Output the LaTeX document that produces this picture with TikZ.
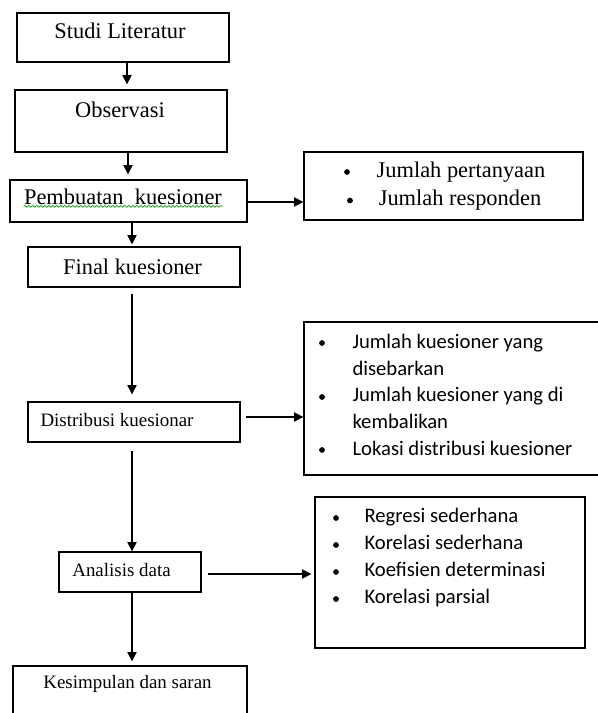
\documentclass[tikz,border=0pt]{standalone}
\usepackage{fontspec}
\setmainfont{Liberation Serif}
\newfontfamily\calibrifont{Carlito}
\usetikzlibrary{arrows.meta,fit,decorations.pathmorphing}

\tikzset{every picture/.style={line width=0.75pt}}
\tikzset{
  box/.style={draw, line width=1pt, inner sep=0pt},
  arr/.style={-{Triangle[length=7pt,width=7pt]}, line width=1pt},
  bigtext/.style={font=\fontsize{16.8}{20}\selectfont, inner sep=0pt},
  smalltext/.style={font=\fontsize{14.2}{17}\selectfont, inner sep=0pt},
  listtext/.style={font=\calibrifont\fontsize{15.5}{19}\selectfont, inner sep=0pt, anchor=base west},
  dot/.style={circle, fill, inner sep=0pt, minimum size=4.3pt},
}

\begin{document}
\begin{tikzpicture}[x=0.75pt,y=0.75pt,yscale=-1,xscale=1]
\clip (0,0) rectangle (598,713);

%Shape: Rectangle 
\node [box, fit={(17,13) (229,62)}] (studi) {};
\node [box, fit={(15,90) (227,152)}] (obs) {};
\node [box, fit={(10,180) (247,222)}] (buat) {};
\node [box, fit={(28,247) (240,287)}] (final) {};
\node [box, fit={(28,402) (240,442)}] (dist) {};
\node [box, fit={(59,552) (201,592)}] (anal) {};
\node [box, fit={(13,666) (247,730)}] (kesim) {};

%Shape: Rectangle 
\node [box, fit={(304,152) (583,220)}] (jumlah) {};
\node [box, fit={(304,322) (602,475)}] (sebar) {};
\node [box, fit={(315,497) (585,648)}] (metode) {};

%Straight Lines 
\draw [arr] (127,0 |- studi.south) -- ([yshift=-5*0.75pt]127,0 |- obs.north);
\draw [arr] (128,0 |- obs.south) -- ([yshift=-5*0.75pt]128,0 |- buat.north);
\draw [arr] (132,0 |- buat.south) -- ([yshift=-2*0.75pt]132,0 |- final.north);
\draw [arr] ([yshift=6*0.75pt]132,0 |- final.south) -- ([yshift=-7*0.75pt]132,0 |- dist.north);
\draw [arr] ([yshift=8*0.75pt]132,0 |- dist.south) -- (132,0 |- anal.north);
\draw [arr] (132,0 |- anal.south) -- ([yshift=-4*0.75pt]132,0 |- kesim.north);

%Straight Lines 
\draw [arr] ([xshift=-2*0.75pt]buat.east |- 0,202) -- (jumlah.west |- 0,202);
\draw [arr] ([xshift=5*0.75pt]dist.east |- 0,417) -- (sebar.west |- 0,417);
\draw [arr] ([xshift=6*0.75pt]anal.east |- 0,574) -- ([xshift=-3*0.75pt]metode.west |- 0,574);

% Text Node
\node [bigtext] (studi-t) at (120,31) {Studi Literatur};
% Text Node
\node [bigtext] (obs-t) at (120,110) {Observasi};
% Text Node
\node [bigtext] (buat-t) at (123,197) {Pembuatan\ \ kuesioner};
\draw [green!60!black, line width=0.5pt, decorate, decoration={snake, amplitude=0.7pt, segment length=3pt}] (buat-t.south west) ++(0,1) coordinate (wave-a) -- (buat-t.south east |- wave-a);
% Text Node
\node [bigtext] (final-t) at (132.5,267) {Final kuesioner};
% Text Node
\node [smalltext, anchor=west] (dist-t) at (40,420) {Distribusi kuesionar};
% Text Node
\node [smalltext] (anal-t) at (121.5,570) {Analisis data};
% Text Node
\node [smalltext] (kesim-t) at (127.5,684) {Kesimpulan dan saran};

% Text Node
\node [dot] (jumlah-b1) at (347,172) {};
\node [bigtext] (jumlah-t1) at (461,172.5) {Jumlah pertanyaan};
\node [dot] (jumlah-b2) at (350,200.5) {};
\node [bigtext] (jumlah-t2) at (460,200) {Jumlah responden};

% Text Node
\node [dot] (sebar-b1) at (322,343) {};
\node [listtext] (sebar-t1) at (352,348) {Jumlah kuesioner yang};
\node [listtext] (sebar-t2) at (352,375) {disebarkan};
\node [dot] (sebar-b2) at (322,397) {};
\node [listtext] (sebar-t3) at (352,401) {Jumlah kuesioner yang di};
\node [listtext] (sebar-t4) at (352,428) {kembalikan};
\node [dot] (sebar-b3) at (322,450) {};
\node [listtext] (sebar-t5) at (352,455) {Lokasi distribusi kuesioner};

% Text Node
\node [dot] (metode-b1) at (336,518) {};
\node [listtext] (metode-t1) at (364,522) {Regresi sederhana};
\node [dot] (metode-b2) at (336,545) {};
\node [listtext] (metode-t2) at (364,549) {Korelasi sederhana};
\node [dot] (metode-b3) at (336,572) {};
\node [listtext] (metode-t3) at (364,576) {Koefisien determinasi};
\node [dot] (metode-b4) at (336,599) {};
\node [listtext] (metode-t4) at (364,603) {Korelasi parsial};

\end{tikzpicture}
\end{document}
